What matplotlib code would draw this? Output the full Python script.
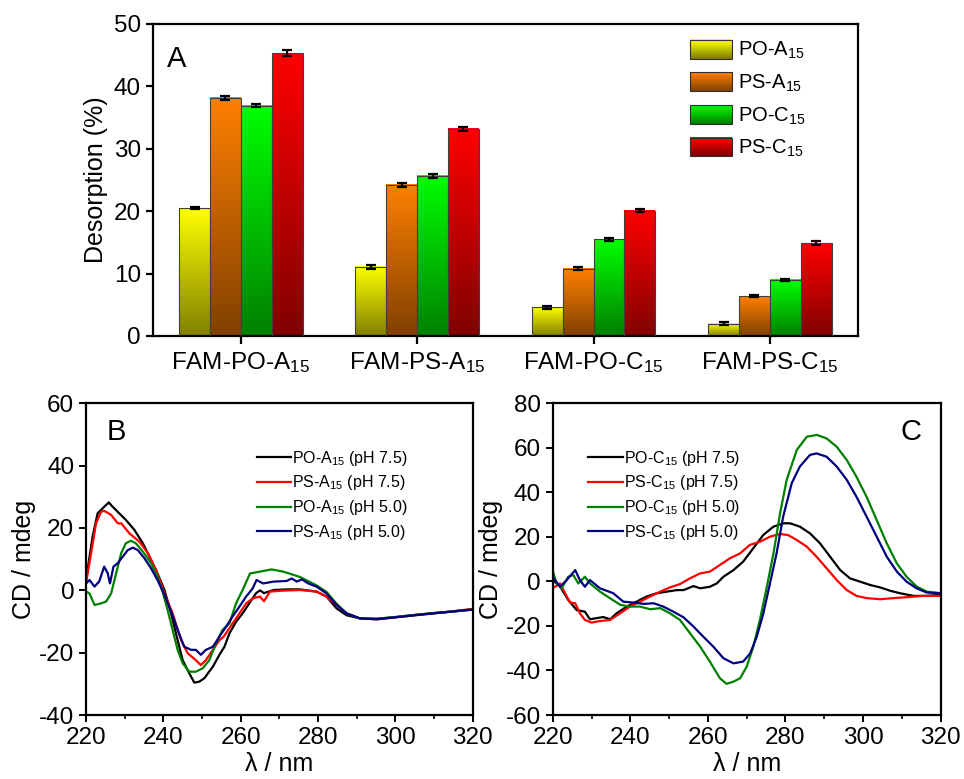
import numpy as np
import matplotlib
matplotlib.use("Agg")
import matplotlib.pyplot as plt
from matplotlib.patches import Rectangle, Patch
from matplotlib.legend_handler import HandlerBase
from matplotlib.ticker import MultipleLocator
from matplotlib.colors import to_rgb

plt.rcParams['font.family'] = ['Liberation Sans', 'DejaVu Sans']
plt.rcParams['mathtext.fontset'] = 'custom'
plt.rcParams['mathtext.rm'] = 'Liberation Sans'
plt.rcParams['mathtext.it'] = 'Liberation Sans:italic'
plt.rcParams['mathtext.default'] = 'regular'
plt.rcParams['axes.unicode_minus'] = False

# ---------------- desorption data (panel A) ----------------
groups = ['FAM-PO-A$_{15}$', 'FAM-PS-A$_{15}$', 'FAM-PO-C$_{15}$', 'FAM-PS-C$_{15}$']
series = ['PO-A$_{15}$', 'PS-A$_{15}$', 'PO-C$_{15}$', 'PS-C$_{15}$']
desorption = [
    [20.5, 11.1, 4.6, 2.0],     # PO-A15
    [38.2, 24.2, 10.8, 6.4],    # PS-A15
    [36.9, 25.7, 15.5, 9.0],    # PO-C15
    [45.3, 33.2, 20.1, 14.9],   # PS-C15
]
desorption_err = [
    [0.2, 0.3, 0.2, 0.2],
    [0.3, 0.3, 0.2, 0.2],
    [0.2, 0.3, 0.2, 0.2],
    [0.5, 0.3, 0.2, 0.3],
]
top_colors = ['#ffff00', '#ff8000', '#00ff00', '#ff0000']
bottom_colors = ['#808000', '#804000', '#008000', '#800000']

# ---------------- CD spectra, A15 strands (panel B) ----------------
b_labels = ['PO-A$_{15}$ (pH 7.5)', 'PS-A$_{15}$ (pH 7.5)', 'PO-A$_{15}$ (pH 5.0)', 'PS-A$_{15}$ (pH 5.0)']
b_po75_x = [220, 221.7, 223, 224.7, 225.9, 226.9, 228.6, 230.3, 232.5, 234.7, 236.4, 238.1, 240.3, 242, 243.7,
            245, 246.7, 248, 249.3, 250.6, 252.8, 254.5, 255.8, 257.1, 258.8, 260.5, 262.2, 264, 265, 266, 268.5,
            272, 275.3, 279.6, 282.2, 284.8, 287.4, 290.8, 295, 300, 305, 310, 315, 320]
b_po75_y = [3.3, 17.2, 24.7, 26.8, 28.2, 26.8, 24.7, 22.6, 19.4, 15.1, 10.8, 6.5, 0.1, -7.4, -16,
            -22.4, -26.6, -29.6, -29.3, -28.2, -24.5, -20.7, -18.1, -13.8, -10.1, -7.4, -4.2, -0.9, 0, -0.9, 0.1,
            0.3, 0.3, -0.4, -2, -5.8, -8, -9, -9.1, -8.6, -7.9, -7.3, -6.8, -6.0]
b_ps75_x = [220, 222.6, 223.9, 224.7, 226.5, 228.2, 229.1, 231.2, 233.8, 236, 238.1, 240.3, 242.4, 244.6, 246.3,
            248.4, 249.7, 251, 252.8, 254.5, 255.5, 256.2, 257.9, 259.7, 261.4, 263.1, 265, 266, 267.6, 271, 275.3,
            279.6, 282.2, 284.8, 287.4, 290.8, 295.2, 301.2, 309.8, 320]
b_ps75_y = [2.2, 21.5, 25.2, 25.5, 24.2, 21.5, 21.5, 18.3, 15.6, 11.9, 6.5, -1, -7.4, -16, -20.2,
            -22.4, -24, -22.4, -19.1, -16, -15, -13.8, -10.6, -7.4, -4.2, -2.6, -2, -3.5, -0.4, -0.1, 0.1,
            -0.4, -2, -4.7, -7.4, -9, -9.3, -8.5, -7.4, -6.0]
b_po50_x = [220, 220.9, 222.2, 223.9, 225.2, 226.5, 227.8, 229.1, 230.3, 231.6, 232.9, 234.7, 236.8, 238.5, 239.8,
            241.1, 242.4, 243.7, 245, 246.7, 248.4, 250.2, 251.9, 253.6, 255.3, 257.1, 258.8, 260.5, 262.4, 265,
            268, 271, 275.3, 279.6, 282.2, 284.8, 287.4, 290.8, 295.2, 301.2, 309.8, 320]
b_po50_y = [-0.4, -1, -4.7, -4.2, -3.6, -1, 5.5, 11.9, 15.1, 15.9, 15.1, 12.4, 8.7, 4.4, -0.4,
            -6.3, -12.7, -19.1, -23.4, -26.1, -26.1, -25, -22.4, -17, -12.7, -10.6, -4.2, 0.1, 5.4, 6,
            6.7, 6, 4.3, 1.6, -0.5, -4.3, -7.4, -9, -9.2, -8.4, -7.3, -6.2]
b_ps50_x = [220, 220.9, 222.2, 223.4, 224.7, 225.6, 226.2, 227.1, 228.2, 229.5, 230.8, 232.1, 233.4, 235.1, 236.8,
            238.5, 240.3, 242, 243.7, 245.4, 247.2, 248.4, 249.7, 251, 252.8, 254.5, 256.2, 257.9, 259.7, 261.4,
            263.1, 264.1, 265.8, 268.5, 271.9, 273.2, 274.5, 275.8, 277.5, 279.6, 282.2, 284.8, 287.4, 290.8,
            295.2, 301.2, 309.8, 320]
b_ps50_y = [2.2, 3.3, 1.2, 2.8, 7.6, 5.5, 2.2, 7.6, 8.7, 10.8, 12.9, 13.7, 12.9, 10.3, 7.1,
            3.3, -1.5, -6.8, -12.7, -18.1, -19.1, -19.1, -20.7, -19.1, -18.1, -14.9, -11.7, -8.4, -5.2, -2,
            0.6, 3.3, 2.2, 2.8, 3, 3.8, 2.8, 3.5, 2.2, 1.2, -1, -4.7, -7.4, -9,
            -9.3, -8.5, -7.4, -6.2]

# ---------------- CD spectra, C15 strands (panel C) ----------------
c_labels = ['PO-C$_{15}$ (pH 7.5)', 'PS-C$_{15}$ (pH 7.5)', 'PO-C$_{15}$ (pH 5.0)', 'PS-C$_{15}$ (pH 5.0)']
c_po75_x = [220, 221.9, 224, 226.2, 228.3, 229.6, 231.3, 233, 234.8, 236.5, 239.1, 241.6, 244.2, 246.8, 249.4,
            252, 253.7, 256.3, 258, 260.5, 262.3, 264, 266.6, 269.1, 271.7, 274.3, 276.9, 279.5, 281.2, 283.7,
            286.3, 288.9, 291.5, 294.1, 296.6, 299.2, 301.8, 304.4, 307, 309.5, 313, 316.4, 320]
c_po75_y = [0.6, -2.3, -8.3, -12.9, -13.6, -17, -16.5, -16, -17, -14.3, -11.3, -9.1, -6.8, -5.3, -4.6,
            -3.9, -3.9, -2.1, -3.1, -2.4, -0.9, 2.1, 5.1, 8.9, 14.9, 20.9, 24.6, 26.1, 26.1, 24.6,
            21.6, 17.1, 11.1, 5.1, 1.4, -0.1, -1.6, -2.7, -4.2, -5.3, -6.5, -6.5, -6.0]
c_ps75_x = [220, 221.9, 223.2, 224.5, 225.8, 227, 228.3, 230, 232.2, 234.8, 237.4, 239.9, 242.5, 245.1, 247.7,
            250.2, 252.8, 255.4, 258, 260.5, 263.1, 265.7, 268.3, 270.8, 273.4, 276, 278.6, 280.7, 282.9, 285.5,
            288, 290.6, 293.2, 295.8, 298.3, 300.9, 304.4, 307.8, 311.2, 315.5, 320]
c_ps75_y = [-3.1, -0.9, -5.3, -9.5, -9.8, -14.3, -17.3, -18.5, -17.8, -17.3, -14.3, -11.3, -9.1, -6.8, -4.6,
            -2.7, -1.2, 1.4, 3.6, 4.4, 7.4, 10.4, 12.6, 16.4, 17.8, 20.1, 21.3, 20.8, 18.6, 15.6,
            11.1, 5.9, 0.6, -3.9, -6.5, -7.5, -8, -7.5, -7.1, -6.5, -6.5]
c_po50_x = [220, 221, 222.3, 224, 225.3, 226.6, 228.3, 229.6, 232.2, 234.8, 237.4, 239.9, 242.5, 245.1, 247.7,
            250.2, 252.8, 255.4, 258, 260.5, 263.1, 264.8, 266.6, 268.3, 270, 271.7, 273.4, 275.2, 276.9, 278.6,
            280.3, 282.9, 285.5, 288.1, 290.6, 293.2, 295.8, 298.3, 300.9, 303.5, 306.1, 308.7, 311.2, 313.8,
            316.4, 320]
c_po50_y = [4.8, -0.9, -3.1, 2.1, 2.9, -0.9, 2.1, -0.9, -4.6, -7.6, -10.5, -11.3, -11.3, -12.5, -12,
            -14.3, -17.3, -23.3, -29.3, -36, -43.5, -46, -45, -43.5, -38.3, -29.3, -17.3, -2.3, 12.6, 30.6,
            45.6, 59, 65, 65.8, 64.2, 60.5, 54.5, 47, 38, 27.6, 17.1, 8.1, 2.1, -2.3,
            -4.6, -5.3]
c_ps50_x = [220, 221.9, 223.6, 225.8, 227, 228.3, 229.6, 232.2, 235.6, 238.2, 240.8, 243.4, 246, 248.5, 251.1,
            253.7, 256.3, 258.8, 261.4, 264, 266.6, 269.1, 270.9, 272.6, 274.3, 276, 277.7, 279.4, 281.6, 283.7,
            286.3, 288, 290.6, 293.2, 295.8, 298.3, 300.9, 303.5, 306.1, 308.7, 311.2, 313.8, 316.4, 320]
c_ps50_y = [2.1, -2.4, 0.6, 5.1, 0.6, -2.4, 0.6, -3.1, -5.3, -9.1, -9.5, -10.1, -9.8, -11.3, -13.6,
            -16.1, -20.3, -24.8, -29.3, -34.5, -36.8, -36, -32.3, -24.8, -14.3, -0.9, 12.6, 29.1, 44.1, 51.6,
            56.8, 57.5, 56, 51.6, 45.6, 38, 29.1, 20.1, 11.1, 4.4, -0.1, -3.1, -5, -5.3]

line_colors = ['black', '#ff0000', '#008000', '#000080']


class GradientHandler(HandlerBase):
    """Legend key drawn as a vertical colour ramp, like the bars."""
    def __init__(self, top, bottom, n=24):
        super().__init__()
        self.top = np.array(to_rgb(top))
        self.bottom = np.array(to_rgb(bottom))
        self.n = n

    def create_artists(self, legend, orig_handle, xdescent, ydescent, width, height, fontsize, trans):
        arts = []
        for k in range(self.n):
            f = k / (self.n - 1)
            c = self.bottom + (self.top - self.bottom) * f
            arts.append(Rectangle((-xdescent, -ydescent + height * k / self.n), width, height / self.n + 0.3,
                                  facecolor=c, edgecolor='none', transform=trans))
        arts.append(Rectangle((-xdescent, -ydescent), width, height, fill=False,
                              edgecolor='#303030', lw=0.8, transform=trans))
        return arts


def style_spines(ax):
    for s in ax.spines.values():
        s.set_linewidth(1.6)


fig = plt.figure(figsize=(9.64, 7.79), dpi=100)
W, H = 964.0, 779.0

# ---------------- panel A: gradient bars ----------------
axA = fig.add_axes([152.7 / W, 1 - 336 / H, 705.3 / W, 312 / H])
xpos = np.arange(1, len(groups) + 1)
bw = 0.175
ramp = np.linspace(0, 1, 256).reshape(-1, 1)
for i, vals in enumerate(desorption):
    offs = xpos + (i - 1.5) * bw
    bars = axA.bar(offs, vals, bw, facecolor='none', edgecolor='#404040', lw=0.8, zorder=3)
    top = np.array(to_rgb(top_colors[i]))
    bot = np.array(to_rgb(bottom_colors[i]))
    grad = bot[None, None, :] + (top - bot)[None, None, :] * ramp[:, :, None]
    for rect in bars:
        x0 = rect.get_x()
        axA.imshow(grad, extent=[x0, x0 + rect.get_width(), 0, rect.get_height()],
                   origin='lower', aspect='auto', zorder=2, interpolation='bilinear')
    axA.errorbar(offs, vals, yerr=desorption_err[i], fmt='none', ecolor='black',
                 elinewidth=1.6, capsize=3.5, capthick=1.6, zorder=4)

axA.set_xlim(0.5, 4.5)
axA.set_ylim(0, 50)
axA.set_xticks(xpos)
axA.set_xticklabels(groups, fontsize=18)
axA.yaxis.set_major_locator(MultipleLocator(10))
axA.tick_params(axis='both', direction='out', length=5, width=1.6, labelsize=17.5)
axA.tick_params(axis='x', length=6, pad=4)
axA.set_ylabel('Desorption (%)', fontsize=18, labelpad=4)
style_spines(axA)
axA.text(0.02, 0.862, 'A', transform=axA.transAxes, fontsize=21)

handles = [Patch() for _ in series]
hmap = {h: GradientHandler(top_colors[i], bottom_colors[i]) for i, h in enumerate(handles)}
axA.legend(handles, series, handler_map=hmap, loc='upper left', bbox_to_anchor=(0.75, 0.975),
           frameon=False, fontsize=14.5, handlelength=2.1, handleheight=1.05,
           handletextpad=0.3, labelspacing=0.55, borderaxespad=0)

# ---------------- panels B and C: CD spectra ----------------
axB = fig.add_axes([86 / W, 1 - 715 / H, 386.7 / W, 311.7 / H])
axC = fig.add_axes([552.7 / W, 1 - 715 / H, 388 / W, 311.7 / H])

b_curves = [(b_po75_x, b_po75_y), (b_ps75_x, b_ps75_y), (b_po50_x, b_po50_y), (b_ps50_x, b_ps50_y)]
c_curves = [(c_po75_x, c_po75_y), (c_ps75_x, c_ps75_y), (c_po50_x, c_po50_y), (c_ps50_x, c_ps50_y)]

for ax, curves, labels in [(axB, b_curves, b_labels), (axC, c_curves, c_labels)]:
    for (xs, ys), lab, col in zip(curves, labels, line_colors):
        ax.plot(xs, ys, color=col, lw=1.6, label=lab)
    ax.set_xlim(220, 320)
    ax.xaxis.set_major_locator(MultipleLocator(20))
    ax.xaxis.set_minor_locator(MultipleLocator(10))
    ax.yaxis.set_major_locator(MultipleLocator(20))
    ax.tick_params(which='major', direction='out', length=5, width=1.4, labelsize=17.5)
    ax.tick_params(axis='x', which='minor', direction='out', length=3, width=1.2)
    ax.set_xlabel('λ / nm', fontsize=18, labelpad=2)
    ax.set_ylabel('CD / mdeg', fontsize=18, labelpad=2)
    style_spines(ax)

axB.set_ylim(-40, 60)
axC.set_ylim(-60, 80)

axB.text(0.054, 0.882, 'B', transform=axB.transAxes, fontsize=21)
axC.text(0.951, 0.882, 'C', transform=axC.transAxes, fontsize=21, ha='right')

axB.legend(loc='upper left', bbox_to_anchor=(0.425, 0.875), frameon=False, fontsize=11.5,
           handlelength=2.15, handletextpad=0.08, labelspacing=0.36, borderaxespad=0)
axC.legend(loc='upper left', bbox_to_anchor=(0.075, 0.875), frameon=False, fontsize=11.5,
           handlelength=2.15, handletextpad=0.08, labelspacing=0.36, borderaxespad=0)

fig.savefig('out.png', dpi=100)
